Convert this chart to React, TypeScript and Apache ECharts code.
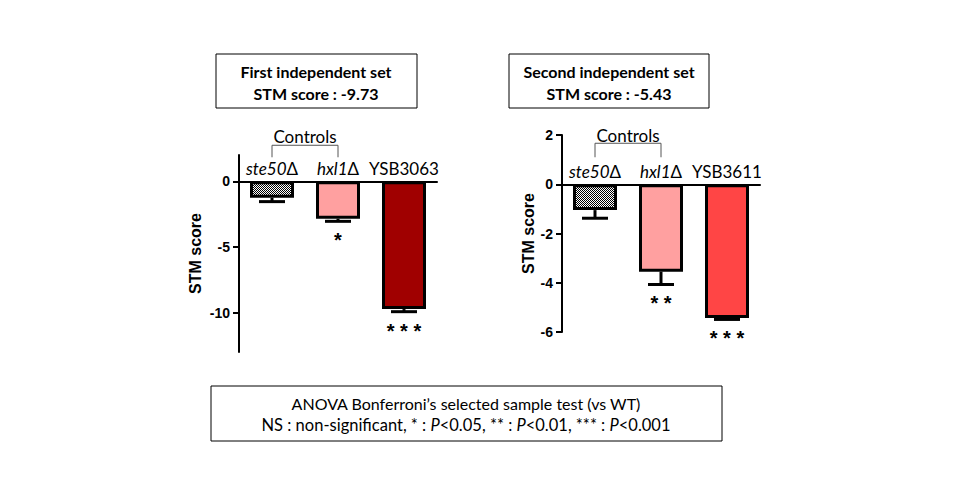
import { useEffect, useRef } from 'react'
import * as echarts from 'echarts'

// first independent set
const firstCategories = ['ste50Δ', 'hxl1Δ', 'YSB3063']
const firstValues = [-1.25, -2.85, -9.73]
const firstErrors = [0.3, 0.2, 0.2]
const firstStars = ['', '*', '* * *']

// second independent set
const secondCategories = ['ste50Δ', 'hxl1Δ', 'YSB3611']
const secondValues = [-1.05, -3.55, -5.43]
const secondErrors = [0.33, 0.52, 0.06]
const secondStars = ['', '* *', '* * *']

const firstTicks = [0, -5, -10]
const firstTitle = ['First independent set', 'STM score : -9.73']
const secondTitle = ['Second independent set', 'STM score : -5.43']

const CAL = 'Lato, "Open Sans", sans-serif'
const ARIAL = '"Liberation Sans", Arial, sans-serif'

const GRID_H = 197
const ranges = [
  { min: -13, max: 2 },
  { min: -6, max: 2 }
]

function checker() {
  const c = document.createElement('canvas')
  c.width = 2
  c.height = 2
  const ctx = c.getContext('2d')!
  ctx.fillStyle = '#fff'
  ctx.fillRect(0, 0, 2, 2)
  ctx.fillStyle = '#000'
  ctx.fillRect(0, 0, 1, 1)
  ctx.fillRect(1, 1, 1, 1)
  return c
}

const catLabel = (v: string) =>
  v.endsWith('Δ') ? `{it|${v.slice(0, -1)}}{n|Δ}` : `{n|${v}}`

function xAxisFor(gridIndex: number, cats: string[]) {
  const r = ranges[gridIndex]
  // labels sit at the grid edge, pull them down to just above the zero line
  const zeroOffset = (GRID_H * r.max) / (r.max - r.min)
  return {
    type: 'category',
    gridIndex,
    data: cats,
    position: 'top',
    axisLine: { onZero: true, lineStyle: { color: '#000', width: 2 } },
    axisTick: { alignWithLabel: true, inside: true, length: 4, lineStyle: { color: '#000', width: 2 } },
    axisLabel: {
      interval: 0,
      margin: 4 - zeroOffset,
      formatter: catLabel,
      rich: {
        it: { fontFamily: CAL, fontSize: 17, fontStyle: 'italic', color: '#000' },
        n: { fontFamily: CAL, fontSize: 17, color: '#000' }
      }
    }
  }
}

function errorSeries(idx: number, values: number[], errs: number[], stars: string[]) {
  return {
    type: 'custom',
    xAxisIndex: idx,
    yAxisIndex: idx,
    encode: { x: 0, y: 1 },
    z: 5,
    data: values.map((v, i) => [i, v, errs[i]]),
    renderItem: (params: any, api: any) => {
      const i = api.value(0)
      const v = api.value(1)
      const e = api.value(2)
      const top = api.coord([i, v])
      const bot = api.coord([i, v - e])
      const star = stars[params.dataIndex]
      return {
        type: 'group',
        children: [
          { type: 'line', shape: { x1: top[0], y1: top[1], x2: bot[0], y2: bot[1] }, style: { stroke: '#000', lineWidth: 3 } },
          { type: 'line', shape: { x1: bot[0] - 13, y1: bot[1], x2: bot[0] + 13, y2: bot[1] }, style: { stroke: '#000', lineWidth: 3 } },
          {
            type: 'text',
            x: bot[0],
            y: bot[1] + 19,
            style: { text: star, fill: '#000', font: `bold 20px ${ARIAL}`, align: 'center', verticalAlign: 'middle' }
          }
        ]
      }
    }
  }
}

function barSeries(idx: number, values: number[], colors: any[]) {
  return {
    type: 'bar',
    xAxisIndex: idx,
    yAxisIndex: idx,
    barWidth: 44,
    data: values.map((v, i) => ({ value: v, itemStyle: { color: colors[i] } })),
    itemStyle: { borderColor: '#000', borderWidth: 3 }
  }
}

function yAxisFor(gridIndex: number, extra: any, nameGap: number) {
  return {
    type: 'value',
    gridIndex,
    ...ranges[gridIndex],
    name: 'STM score',
    nameLocation: 'middle',
    nameGap,
    nameTextStyle: { fontFamily: ARIAL, fontWeight: 'bold', fontSize: 16, color: '#000' },
    axisLine: { show: true, lineStyle: { color: '#000', width: 2 } },
    axisTick: { show: true, length: 6, lineStyle: { color: '#000', width: 2 } },
    axisLabel: { margin: 9, fontFamily: ARIAL, fontWeight: 'bold', fontSize: 14, color: '#000' },
    splitLine: { show: false },
    ...extra
  }
}

// bracket offsets from the zero line, per chart: [top, bottom, text]
const bracketOffsets = [
  [-36, -24, -45],
  [-41, -27, -49]
]

export default function App() {
  const ref = useRef<HTMLDivElement | null>(null)

  useEffect(() => {
    if (!ref.current) return
    document.body.style.margin = '0'
    const chart = echarts.init(ref.current, null, { renderer: 'svg' })
    const pattern = { image: checker(), repeat: 'repeat' }

    const left = yAxisFor(0, {}, 36)
    left.axisTick = { ...left.axisTick, customValues: firstTicks } as any
    left.axisLabel = { ...left.axisLabel, customValues: firstTicks } as any

    chart.setOption({
      animation: false,
      backgroundColor: '#fff',
      grid: [
        { left: 239, top: 155, width: 198, height: GRID_H },
        { left: 562, top: 135, width: 198, height: GRID_H }
      ],
      xAxis: [xAxisFor(0, firstCategories), xAxisFor(1, secondCategories)],
      yAxis: [left, yAxisFor(1, { interval: 2 }, 26)],
      series: [
        barSeries(0, firstValues, [pattern, '#FFA0A0', '#A00000']),
        barSeries(1, secondValues, [pattern, '#FFA0A0', '#FF4545']),
        errorSeries(0, firstValues, firstErrors, firstStars),
        errorSeries(1, secondValues, secondErrors, secondStars)
      ]
    })

    // "Controls" brackets over the first two categories
    const brackets: any[] = []
    ;[0, 1].forEach((g) => {
      const x0 = chart.convertToPixel({ xAxisIndex: g }, 0) as number
      const x1 = chart.convertToPixel({ xAxisIndex: g }, 1) as number
      const y0 = chart.convertToPixel({ yAxisIndex: g }, 0) as number
      const [t, b, tx] = bracketOffsets[g]
      brackets.push(
        {
          type: 'polyline',
          shape: { points: [[x0, y0 + b], [x0, y0 + t], [x1, y0 + t], [x1, y0 + b]] },
          style: { stroke: '#555', lineWidth: 1, fill: null }
        },
        {
          type: 'text',
          x: (x0 + x1) / 2,
          y: y0 + tx,
          style: { text: 'Controls', font: `17px ${CAL}`, fill: '#000', align: 'center', verticalAlign: 'middle' }
        }
      )
    })

    const box = (x: number, y: number, w: number, h: number) => ({
      type: 'rect',
      shape: { x, y, width: w, height: h },
      style: { fill: '#fff', stroke: '#000', lineWidth: 1 }
    })
    const txt = (x: number, y: number, text: string, bold: boolean, size: number, rich?: any) => ({
      type: 'text',
      x,
      y,
      style: {
        text,
        font: `${bold ? 'bold ' : ''}${size}px ${CAL}`,
        fill: '#000',
        align: 'center',
        verticalAlign: 'middle',
        rich
      }
    })

    chart.setOption({
      graphic: [
        ...brackets,
        box(216, 54, 201, 54),
        txt(316, 71, firstTitle[0], true, 16),
        txt(316, 93, firstTitle[1], true, 16),
        box(509, 54, 200, 54),
        txt(609, 71, secondTitle[0], true, 16),
        txt(609, 93, secondTitle[1], true, 16),
        box(211, 386, 511, 55),
        txt(466, 403, 'ANOVA Bonferroni’s selected sample test (vs WT)', false, 16),
        txt(466, 425, 'NS : non-significant, * : {i|P}<0.05, ** : {i|P}<0.01, *** : {i|P}<0.001', false, 16.5, {
          i: { fontFamily: CAL, fontSize: 16.5, fontStyle: 'italic', color: '#000' }
        })
      ]
    })

    return () => chart.dispose()
  }, [])

  return <div ref={ref} style={{ width: 960, height: 500 }} />
}
